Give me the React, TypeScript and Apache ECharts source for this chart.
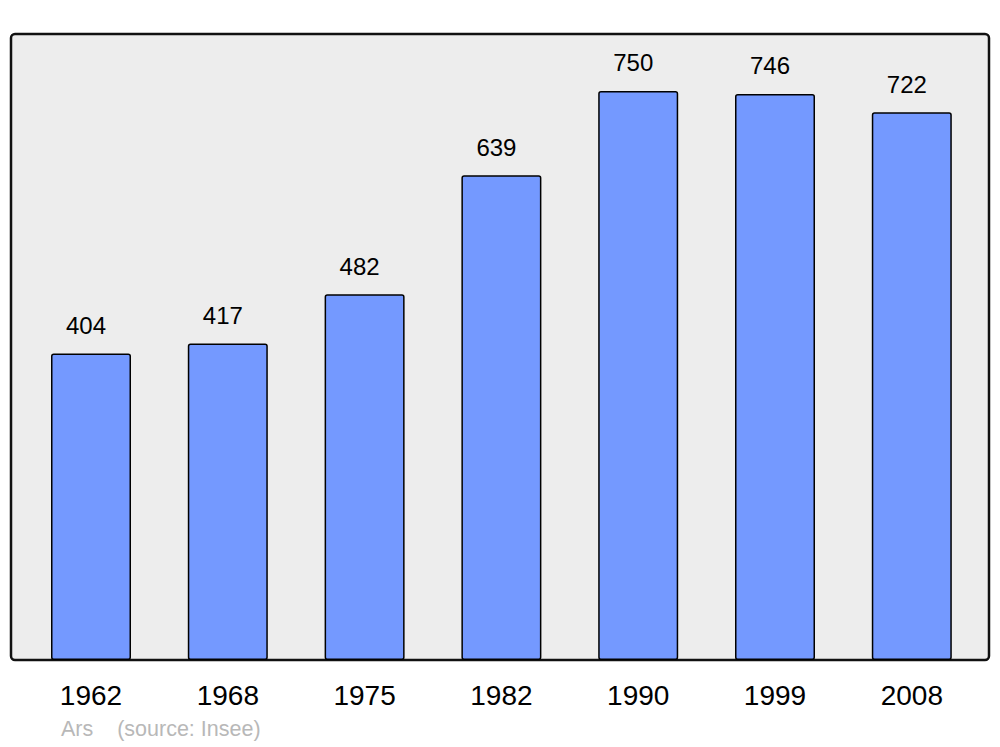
import React, { useEffect, useRef } from "react";
import * as echarts from "echarts";

const years = ["1962", "1968", "1975", "1982", "1990", "1999", "2008"];
const population = [404, 417, 482, 639, 750, 746, 722];
const footer = "Ars    (source: Insee)";

export default function App() {
  const ref = useRef<HTMLDivElement>(null);
  useEffect(() => {
    document.body.style.margin = "0";
    const chart = echarts.init(ref.current!, null, { renderer: "svg" });
    chart.setOption({
      animation: false,
      backgroundColor: "#ffffff",
      textStyle: { fontFamily: "Liberation Sans, Arial, sans-serif" },
      graphic: [
        {
          type: "rect",
          z: -10,
          shape: { x: 11, y: 34, width: 978, height: 626, r: 4 },
          style: { fill: "#ededed", stroke: "#111111", lineWidth: 2.5 },
        },
        {
          type: "text",
          left: 61,
          top: 718,
          style: {
            text: footer,
            fill: "#b8b8b8",
            font: "21.5px 'Liberation Sans', Arial, sans-serif",
          },
        },
      ],
      grid: { left: 22.6, width: 957.6, top: 34, height: 626 },
      xAxis: {
        type: "category",
        data: years,
        axisLine: { show: false },
        axisTick: { show: false },
        axisLabel: {
          color: "#000",
          fontSize: 28,
          margin: 21,
          fontFamily: "Liberation Sans, Arial, sans-serif",
        },
      },
      yAxis: {
        type: "value",
        min: 0,
        max: 825,
        show: false,
        splitLine: { show: false },
      },
      series: [
        {
          type: "bar",
          data: population,
          barWidth: 80,
          z: 2,
          itemStyle: {
            color: "#7499ff",
            borderColor: "#000",
            borderWidth: 1.5,
            borderRadius: 2,
          },
          label: {
            show: true,
            position: "top",
            distance: 16,
            offset: [-5, 0],
            color: "#000",
            fontSize: 24,
            fontFamily: "Liberation Sans, Arial, sans-serif",
          },
        },
      ],
    });
    return () => chart.dispose();
  }, []);
  return <div ref={ref} style={{ width: 1000, height: 747 }} />;
}
